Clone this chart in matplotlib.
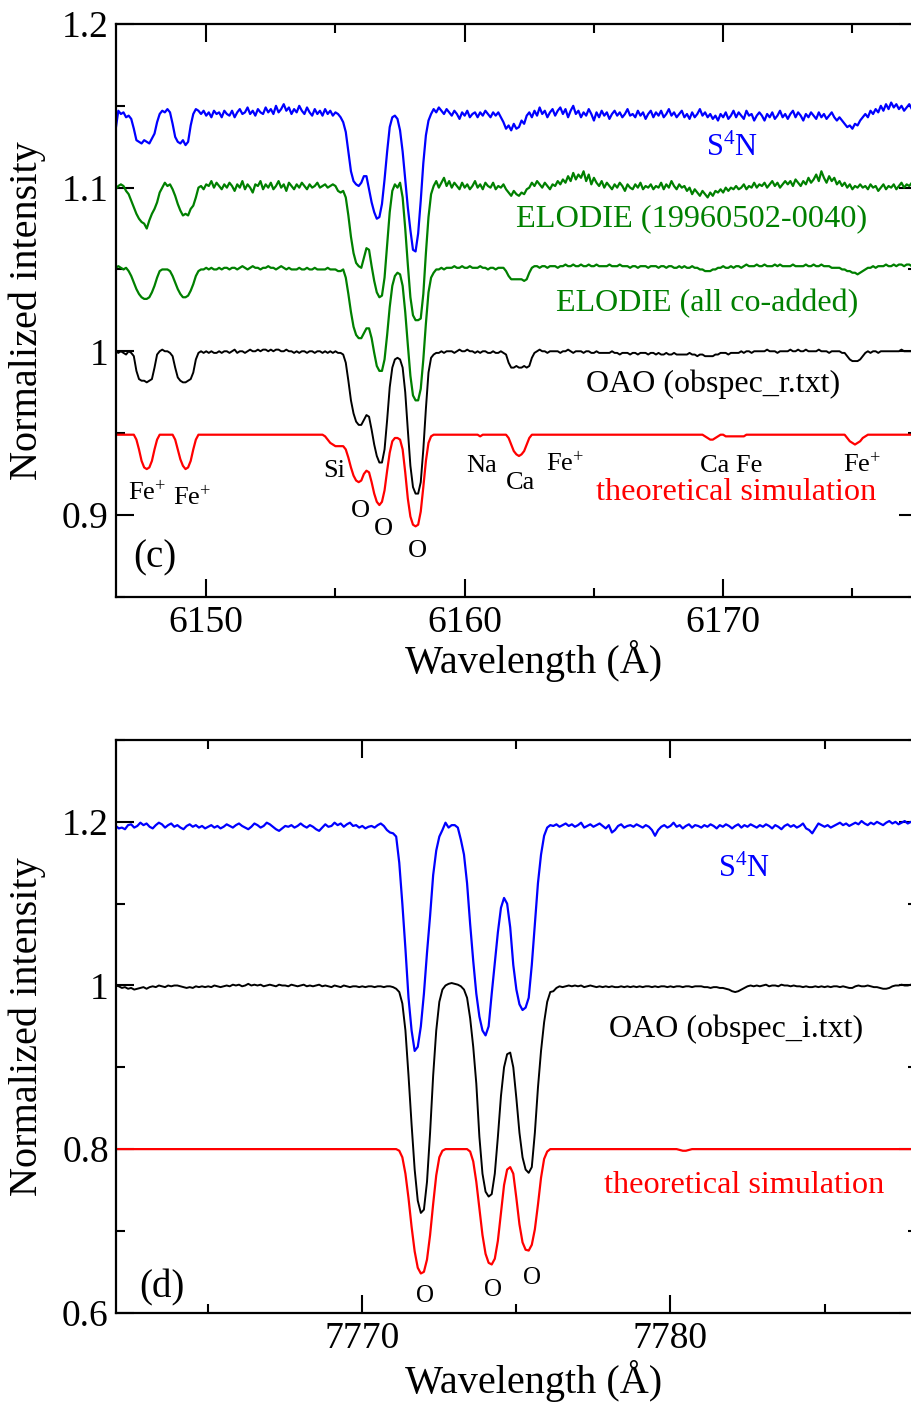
import numpy as np
import matplotlib
matplotlib.use('Agg')
import matplotlib.pyplot as plt
from matplotlib.ticker import MultipleLocator, FuncFormatter

plt.rcParams['font.family'] = ['Liberation Serif', 'DejaVu Serif']
plt.rcParams['mathtext.fontset'] = 'custom'
plt.rcParams['mathtext.rm'] = 'Liberation Serif'
plt.rcParams['mathtext.it'] = 'Liberation Serif:italic'

# ---------------- panel (c): 6146.5 - 6177.4 A, sampled every 0.1 A ----------------
wl_c_start = 6146.5
wl_c_step = 0.1

s4n_c = [
    1.136, 1.147, 1.145, 1.146, 1.143, 1.144, 1.142, 1.136, 1.129, 1.128,
    1.127, 1.129, 1.128, 1.127, 1.130, 1.133, 1.140, 1.145, 1.147, 1.146,
    1.148, 1.146, 1.139, 1.131, 1.128, 1.127, 1.129, 1.126, 1.128, 1.138,
    1.145, 1.148, 1.147, 1.145, 1.147, 1.144, 1.146, 1.143, 1.147, 1.145,
    1.146, 1.143, 1.147, 1.145, 1.144, 1.147, 1.143, 1.146, 1.148, 1.145,
    1.146, 1.149, 1.145, 1.147, 1.144, 1.148, 1.146, 1.145, 1.149, 1.146,
    1.148, 1.145, 1.150, 1.146, 1.148, 1.151, 1.147, 1.149, 1.145, 1.148,
    1.146, 1.150, 1.147, 1.145, 1.149, 1.146, 1.144, 1.148, 1.145, 1.147,
    1.144, 1.148, 1.145, 1.147, 1.144, 1.146, 1.145, 1.143, 1.140, 1.134,
    1.122, 1.110, 1.104, 1.102, 1.101, 1.103, 1.107, 1.107, 1.099, 1.091,
    1.085, 1.081, 1.082, 1.090, 1.105, 1.122, 1.137, 1.143, 1.144, 1.142,
    1.135, 1.122, 1.105, 1.088, 1.074, 1.062, 1.061, 1.072, 1.092, 1.115,
    1.132, 1.141, 1.145, 1.148, 1.146, 1.149, 1.147, 1.145, 1.148, 1.146,
    1.144, 1.147, 1.145, 1.142, 1.146, 1.144, 1.147, 1.143, 1.145, 1.146,
    1.143, 1.146, 1.144, 1.147, 1.145, 1.143, 1.146, 1.144, 1.146, 1.143,
    1.140, 1.136, 1.138, 1.135, 1.139, 1.136, 1.137, 1.141, 1.139, 1.144,
    1.146, 1.143, 1.147, 1.144, 1.149, 1.145, 1.147, 1.143, 1.146, 1.148,
    1.144, 1.147, 1.149, 1.145, 1.148, 1.143, 1.147, 1.150, 1.145, 1.147,
    1.143, 1.146, 1.144, 1.148, 1.145, 1.141, 1.146, 1.143, 1.147, 1.144,
    1.146, 1.142, 1.145, 1.147, 1.144, 1.146, 1.143, 1.145, 1.148, 1.144,
    1.145, 1.143, 1.147, 1.144, 1.146, 1.142, 1.145, 1.147, 1.143, 1.146,
    1.144, 1.147, 1.143, 1.145, 1.148, 1.144, 1.146, 1.143, 1.145, 1.147,
    1.143, 1.145, 1.142, 1.146, 1.143, 1.145, 1.148, 1.144, 1.146, 1.143,
    1.145, 1.142, 1.144, 1.141, 1.145, 1.143, 1.146, 1.142, 1.144, 1.147,
    1.143, 1.146, 1.144, 1.142, 1.147, 1.144, 1.145, 1.141, 1.144, 1.146,
    1.144, 1.141, 1.145, 1.143, 1.146, 1.142, 1.144, 1.147, 1.143, 1.145,
    1.142, 1.145, 1.147, 1.143, 1.146, 1.144, 1.141, 1.145, 1.143, 1.146,
    1.144, 1.142, 1.146, 1.143, 1.145, 1.142, 1.144, 1.146, 1.143, 1.141,
    1.143, 1.141, 1.139, 1.137, 1.138, 1.136, 1.139, 1.138, 1.141, 1.143,
    1.145, 1.143, 1.147, 1.145, 1.148, 1.146, 1.150, 1.147, 1.151, 1.148,
    1.152, 1.149, 1.151, 1.148, 1.150, 1.147, 1.149, 1.151, 1.148, 1.150,
]

elodie_single_c = [
    1.099, 1.101, 1.102, 1.101, 1.098, 1.096, 1.092, 1.088, 1.084, 1.081,
    1.079, 1.078, 1.075, 1.080, 1.084, 1.087, 1.091, 1.097, 1.100, 1.103,
    1.101, 1.102, 1.099, 1.095, 1.090, 1.086, 1.083, 1.084, 1.083, 1.087,
    1.089, 1.094, 1.100, 1.101, 1.099, 1.102, 1.101, 1.104, 1.100, 1.103,
    1.101, 1.099, 1.102, 1.100, 1.103, 1.101, 1.098, 1.102, 1.100, 1.104,
    1.099, 1.102, 1.100, 1.097, 1.102, 1.101, 1.104, 1.099, 1.102, 1.100,
    1.103, 1.099, 1.101, 1.104, 1.100, 1.102, 1.098, 1.103, 1.101, 1.099,
    1.102, 1.100, 1.103, 1.101, 1.099, 1.102, 1.100, 1.101, 1.103, 1.100,
    1.101, 1.102, 1.100, 1.101, 1.102, 1.101, 1.098, 1.097, 1.098, 1.094,
    1.083, 1.070, 1.060, 1.054, 1.052, 1.051, 1.057, 1.063, 1.062, 1.052,
    1.043, 1.036, 1.033, 1.034, 1.045, 1.065, 1.085, 1.098, 1.102, 1.100,
    1.103, 1.094, 1.075, 1.053, 1.033, 1.022, 1.019, 1.019, 1.020, 1.035,
    1.060, 1.082, 1.096, 1.101, 1.104, 1.100, 1.103, 1.106, 1.101, 1.104,
    1.100, 1.103, 1.101, 1.099, 1.103, 1.100, 1.102, 1.099, 1.101, 1.104,
    1.100, 1.102, 1.099, 1.103, 1.101, 1.100, 1.103, 1.099, 1.101, 1.100,
    1.102, 1.099, 1.097, 1.095, 1.098, 1.096, 1.095, 1.097, 1.096, 1.099,
    1.100, 1.103, 1.101, 1.104, 1.102, 1.100, 1.103, 1.101, 1.099, 1.102,
    1.101, 1.104, 1.102, 1.105, 1.103, 1.107, 1.104, 1.109, 1.105, 1.108,
    1.106, 1.110, 1.104, 1.108, 1.102, 1.106, 1.103, 1.101, 1.104, 1.100,
    1.103, 1.101, 1.099, 1.102, 1.100, 1.103, 1.101, 1.098, 1.102, 1.100,
    1.099, 1.102, 1.100, 1.103, 1.099, 1.101, 1.100, 1.102, 1.099, 1.101,
    1.100, 1.103, 1.099, 1.102, 1.100, 1.104, 1.101, 1.099, 1.102, 1.100,
    1.101, 1.098, 1.100, 1.096, 1.099, 1.097, 1.095, 1.098, 1.096, 1.094,
    1.097, 1.095, 1.098, 1.097, 1.099, 1.097, 1.100, 1.098, 1.100, 1.099,
    1.101, 1.099, 1.100, 1.102, 1.099, 1.101, 1.100, 1.103, 1.100, 1.102,
    1.101, 1.103, 1.100, 1.102, 1.104, 1.101, 1.103, 1.100, 1.102, 1.104,
    1.102, 1.104, 1.101, 1.105, 1.103, 1.101, 1.104, 1.102, 1.106, 1.103,
    1.105, 1.108, 1.104, 1.110, 1.106, 1.103, 1.107, 1.104, 1.106, 1.102,
    1.104, 1.101, 1.103, 1.100, 1.102, 1.099, 1.101, 1.100, 1.102, 1.100,
    1.101, 1.099, 1.102, 1.100, 1.101, 1.098, 1.100, 1.102, 1.099, 1.101,
    1.100, 1.102, 1.099, 1.101, 1.103, 1.100, 1.102, 1.101, 1.103, 1.102,
]

elodie_coadd_c = [
    1.051, 1.052, 1.051, 1.050, 1.051, 1.049, 1.046, 1.042, 1.038, 1.035,
    1.033, 1.032, 1.032, 1.033, 1.036, 1.040, 1.045, 1.049, 1.050, 1.050,
    1.050, 1.049, 1.046, 1.042, 1.038, 1.035, 1.033, 1.033, 1.034, 1.037,
    1.041, 1.046, 1.049, 1.050, 1.050, 1.051, 1.050, 1.051, 1.050, 1.050,
    1.051, 1.050, 1.051, 1.051, 1.050, 1.051, 1.051, 1.050, 1.051, 1.052,
    1.051, 1.050, 1.051, 1.052, 1.051, 1.051, 1.050, 1.051, 1.051, 1.052,
    1.051, 1.051, 1.050, 1.051, 1.052, 1.051, 1.050, 1.051, 1.050, 1.050,
    1.050, 1.051, 1.050, 1.050, 1.051, 1.050, 1.050, 1.051, 1.050, 1.050,
    1.050, 1.050, 1.051, 1.050, 1.050, 1.050, 1.049, 1.049, 1.050, 1.045,
    1.035, 1.024, 1.015, 1.010, 1.008, 1.008, 1.011, 1.014, 1.014, 1.008,
    0.999, 0.991, 0.988, 0.988, 0.995, 1.010, 1.027, 1.040, 1.046, 1.048,
    1.047, 1.040, 1.024, 1.004, 0.985, 0.973, 0.970, 0.970, 0.977, 0.995,
    1.017, 1.036, 1.045, 1.048, 1.050, 1.050, 1.051, 1.050, 1.051, 1.051,
    1.051, 1.052, 1.051, 1.051, 1.052, 1.051, 1.051, 1.052, 1.051, 1.051,
    1.051, 1.052, 1.051, 1.051, 1.050, 1.051, 1.051, 1.050, 1.051, 1.051,
    1.051, 1.049, 1.046, 1.044, 1.044, 1.044, 1.044, 1.044, 1.043, 1.044,
    1.048, 1.051, 1.052, 1.052, 1.051, 1.052, 1.052, 1.051, 1.052, 1.052,
    1.052, 1.051, 1.052, 1.052, 1.053, 1.052, 1.052, 1.053, 1.052, 1.052,
    1.053, 1.052, 1.052, 1.053, 1.052, 1.052, 1.053, 1.052, 1.052, 1.052,
    1.052, 1.053, 1.052, 1.052, 1.052, 1.053, 1.052, 1.052, 1.052, 1.051,
    1.052, 1.052, 1.051, 1.052, 1.052, 1.052, 1.051, 1.052, 1.052, 1.052,
    1.051, 1.052, 1.052, 1.051, 1.052, 1.052, 1.051, 1.051, 1.052, 1.051,
    1.052, 1.051, 1.051, 1.052, 1.051, 1.051, 1.050, 1.050, 1.049, 1.049,
    1.049, 1.050, 1.050, 1.051, 1.051, 1.052, 1.051, 1.051, 1.052, 1.051,
    1.052, 1.052, 1.051, 1.052, 1.053, 1.052, 1.052, 1.052, 1.053, 1.052,
    1.052, 1.053, 1.052, 1.052, 1.052, 1.053, 1.052, 1.053, 1.052, 1.052,
    1.052, 1.052, 1.053, 1.052, 1.052, 1.052, 1.052, 1.053, 1.052, 1.052,
    1.053, 1.052, 1.052, 1.053, 1.052, 1.052, 1.052, 1.051, 1.051, 1.051,
    1.051, 1.050, 1.050, 1.049, 1.049, 1.048, 1.048, 1.047, 1.048, 1.049,
    1.050, 1.051, 1.051, 1.052, 1.051, 1.052, 1.052, 1.052, 1.053, 1.052,
    1.052, 1.053, 1.052, 1.053, 1.053, 1.052, 1.053, 1.053, 1.052, 1.053,
]

oao_c = [
    1.000, 0.999, 1.000, 0.999, 0.998, 1.000, 0.999, 0.997, 0.988, 0.983,
    0.982, 0.982, 0.981, 0.982, 0.983, 0.990, 0.998, 1.000, 1.001, 1.000,
    1.000, 0.999, 0.997, 0.990, 0.984, 0.982, 0.981, 0.981, 0.982, 0.983,
    0.987, 0.995, 0.999, 1.000, 0.999, 1.000, 0.999, 1.000, 0.999, 0.999,
    1.000, 0.999, 1.000, 1.000, 0.999, 1.000, 1.001, 0.999, 1.000, 1.000,
    0.999, 1.000, 1.001, 1.000, 1.000, 1.001, 1.000, 1.001, 1.001, 1.000,
    1.001, 1.000, 1.001, 1.001, 1.000, 1.000, 1.001, 1.000, 1.000, 0.999,
    1.000, 0.999, 1.000, 1.000, 0.999, 1.000, 1.000, 0.999, 1.000, 1.000,
    0.999, 1.000, 0.999, 1.000, 0.999, 1.000, 0.999, 0.999, 0.998, 0.993,
    0.982, 0.970, 0.962, 0.957, 0.955, 0.955, 0.958, 0.961, 0.960, 0.952,
    0.943, 0.936, 0.932, 0.932, 0.940, 0.958, 0.978, 0.990, 0.995, 0.996,
    0.995, 0.990, 0.975, 0.952, 0.930, 0.917, 0.913, 0.913, 0.920, 0.940,
    0.965, 0.987, 0.996, 0.998, 0.999, 0.999, 1.000, 0.999, 1.000, 1.000,
    1.000, 0.999, 1.000, 1.001, 1.000, 1.000, 1.001, 1.000, 1.000, 0.999,
    1.000, 0.999, 1.000, 1.000, 0.999, 0.999, 1.000, 0.999, 0.999, 1.000,
    0.999, 0.998, 0.993, 0.990, 0.990, 0.991, 0.990, 0.990, 0.991, 0.990,
    0.991, 0.996, 0.999, 1.000, 1.001, 1.000, 1.000, 0.999, 1.000, 1.000,
    1.000, 1.000, 0.999, 1.000, 1.000, 1.001, 1.000, 0.999, 1.000, 1.000,
    1.000, 0.999, 1.000, 1.000, 0.999, 0.999, 1.000, 0.999, 0.999, 0.999,
    0.999, 0.999, 1.000, 0.999, 0.999, 0.998, 0.999, 0.999, 0.999, 0.998,
    0.999, 0.999, 0.998, 0.999, 0.999, 0.999, 0.998, 0.999, 0.999, 0.998,
    0.999, 0.998, 0.998, 0.999, 0.998, 0.998, 0.999, 0.998, 0.998, 0.998,
    0.998, 0.998, 0.999, 0.998, 0.998, 0.997, 0.998, 0.998, 0.997, 0.997,
    0.997, 0.997, 0.998, 0.998, 0.999, 0.999, 0.999, 0.998, 0.999, 0.999,
    0.999, 0.999, 1.000, 0.999, 1.000, 1.000, 0.999, 1.000, 1.000, 1.000,
    1.000, 1.000, 1.001, 1.000, 1.000, 1.000, 0.999, 1.000, 1.000, 1.000,
    1.000, 1.001, 1.000, 1.000, 1.001, 1.000, 1.000, 1.001, 1.000, 1.000,
    1.000, 1.000, 1.001, 1.000, 1.000, 1.000, 0.999, 1.000, 1.000, 1.000,
    1.000, 0.999, 0.999, 0.997, 0.995, 0.994, 0.994, 0.994, 0.995, 0.997,
    0.999, 1.000, 0.999, 1.000, 1.000, 0.999, 1.000, 1.000, 1.000, 1.000,
    1.000, 1.000, 1.000, 1.000, 1.001, 1.000, 1.000, 1.000, 1.000, 1.000,
]

theory_c = [
    0.949, 0.949, 0.949, 0.949, 0.949, 0.949, 0.949, 0.949, 0.946, 0.940,
    0.933, 0.929, 0.928, 0.929, 0.933, 0.940, 0.946, 0.949, 0.949, 0.949,
    0.949, 0.949, 0.949, 0.946, 0.940, 0.934, 0.930, 0.928, 0.929, 0.933,
    0.940, 0.946, 0.949, 0.949, 0.949, 0.949, 0.949, 0.949, 0.949, 0.949,
    0.949, 0.949, 0.949, 0.949, 0.949, 0.949, 0.949, 0.949, 0.949, 0.949,
    0.949, 0.949, 0.949, 0.949, 0.949, 0.949, 0.949, 0.949, 0.949, 0.949,
    0.949, 0.949, 0.949, 0.949, 0.949, 0.949, 0.949, 0.949, 0.949, 0.949,
    0.949, 0.949, 0.949, 0.949, 0.949, 0.949, 0.949, 0.949, 0.949, 0.949,
    0.949, 0.948, 0.946, 0.944, 0.943, 0.942, 0.942, 0.942, 0.942, 0.940,
    0.935, 0.929, 0.924, 0.921, 0.920, 0.921, 0.925, 0.927, 0.926, 0.920,
    0.913, 0.908, 0.906, 0.908, 0.915, 0.927, 0.938, 0.945, 0.947, 0.947,
    0.946, 0.940, 0.926, 0.910, 0.899, 0.894, 0.893, 0.894, 0.902, 0.917,
    0.933, 0.944, 0.948, 0.949, 0.949, 0.949, 0.949, 0.949, 0.949, 0.949,
    0.949, 0.949, 0.949, 0.949, 0.949, 0.949, 0.949, 0.949, 0.949, 0.949,
    0.949, 0.948, 0.949, 0.949, 0.949, 0.949, 0.949, 0.949, 0.949, 0.949,
    0.949, 0.949, 0.947, 0.943, 0.939, 0.937, 0.936, 0.937, 0.939, 0.943,
    0.947, 0.949, 0.949, 0.949, 0.949, 0.949, 0.949, 0.949, 0.949, 0.949,
    0.949, 0.949, 0.949, 0.949, 0.949, 0.949, 0.949, 0.949, 0.949, 0.949,
    0.949, 0.949, 0.949, 0.949, 0.949, 0.949, 0.949, 0.949, 0.949, 0.949,
    0.949, 0.949, 0.949, 0.949, 0.949, 0.949, 0.949, 0.949, 0.949, 0.949,
    0.949, 0.949, 0.949, 0.949, 0.949, 0.949, 0.949, 0.949, 0.949, 0.949,
    0.949, 0.949, 0.949, 0.949, 0.949, 0.949, 0.949, 0.949, 0.949, 0.949,
    0.949, 0.949, 0.949, 0.949, 0.949, 0.949, 0.949, 0.949, 0.948, 0.947,
    0.946, 0.946, 0.947, 0.948, 0.949, 0.949, 0.948, 0.948, 0.948, 0.948,
    0.948, 0.948, 0.948, 0.948, 0.949, 0.949, 0.949, 0.949, 0.949, 0.949,
    0.949, 0.949, 0.949, 0.949, 0.949, 0.949, 0.949, 0.949, 0.949, 0.949,
    0.949, 0.949, 0.949, 0.949, 0.949, 0.949, 0.949, 0.949, 0.949, 0.949,
    0.949, 0.949, 0.949, 0.949, 0.949, 0.949, 0.949, 0.949, 0.949, 0.949,
    0.949, 0.949, 0.949, 0.947, 0.945, 0.944, 0.943, 0.944, 0.945, 0.947,
    0.948, 0.949, 0.949, 0.949, 0.949, 0.949, 0.949, 0.949, 0.949, 0.949,
    0.949, 0.949, 0.949, 0.949, 0.949, 0.949, 0.949, 0.949, 0.949, 0.949,
]

# ---------------- panel (d): 7762.0 - 7787.9 A, sampled every 0.1 A ----------------
wl_d_start = 7762.0
wl_d_step = 0.1

s4n_d = [
    1.195, 1.192, 1.193, 1.191, 1.196, 1.197, 1.193, 1.195, 1.199, 1.196,
    1.198, 1.194, 1.192, 1.196, 1.199, 1.197, 1.193, 1.196, 1.198, 1.194,
    1.196, 1.193, 1.191, 1.195, 1.197, 1.194, 1.196, 1.193, 1.195, 1.192,
    1.194, 1.196, 1.193, 1.195, 1.192, 1.194, 1.197, 1.195, 1.193, 1.196,
    1.198, 1.195, 1.193, 1.191, 1.194, 1.198, 1.196, 1.193, 1.195, 1.199,
    1.197, 1.194, 1.191, 1.189, 1.192, 1.195, 1.194, 1.196, 1.193, 1.195,
    1.198, 1.195, 1.193, 1.196, 1.194, 1.191, 1.189, 1.193, 1.197, 1.194,
    1.195, 1.199, 1.196, 1.198, 1.194, 1.197, 1.199, 1.195, 1.196, 1.193,
    1.195, 1.192, 1.194, 1.195, 1.193, 1.196, 1.198, 1.195, 1.190, 1.187,
    1.186, 1.182, 1.150, 1.100, 1.045, 0.985, 0.945, 0.920, 0.925, 0.950,
    0.990, 1.040, 1.085, 1.135, 1.165, 1.182, 1.190, 1.199, 1.193, 1.196,
    1.196, 1.193, 1.178, 1.160, 1.125, 1.075, 1.030, 0.990, 0.962, 0.945,
    0.939, 0.950, 0.990, 1.028, 1.065, 1.095, 1.107, 1.100, 1.071, 1.025,
    0.995, 0.977, 0.970, 0.973, 0.985, 1.025, 1.075, 1.125, 1.160, 1.183,
    1.193, 1.196, 1.195, 1.197, 1.194, 1.196, 1.198, 1.195, 1.197, 1.194,
    1.196, 1.199, 1.193, 1.195, 1.197, 1.194, 1.196, 1.198, 1.195, 1.192,
    1.196, 1.187, 1.190, 1.195, 1.197, 1.193, 1.195, 1.196, 1.194, 1.197,
    1.195, 1.193, 1.196, 1.194, 1.190, 1.183, 1.190, 1.194, 1.196, 1.193,
    1.195, 1.199, 1.194, 1.196, 1.192, 1.195, 1.197, 1.193, 1.196, 1.195,
    1.193, 1.196, 1.194, 1.197, 1.195, 1.192, 1.196, 1.194, 1.197, 1.195,
    1.192, 1.195, 1.197, 1.193, 1.196, 1.194, 1.197, 1.195, 1.193, 1.196,
    1.194, 1.197, 1.195, 1.192, 1.196, 1.194, 1.191, 1.195, 1.197, 1.194,
    1.196, 1.193, 1.195, 1.198, 1.192, 1.190, 1.186, 1.192, 1.198, 1.196,
    1.194, 1.196, 1.193, 1.195, 1.197, 1.199, 1.196, 1.198, 1.195, 1.197,
    1.199, 1.197, 1.201, 1.198, 1.196, 1.199, 1.197, 1.200, 1.198, 1.196,
    1.199, 1.201, 1.198, 1.200, 1.197, 1.199, 1.201, 1.198, 1.200, 1.199,
]

oao_d = [
    1.000, 0.999, 0.997, 0.998, 0.996, 0.997, 0.995, 0.996, 0.997, 0.998,
    0.996, 0.998, 0.999, 0.998, 1.000, 0.999, 0.998, 1.000, 0.999, 1.000,
    1.000, 0.999, 0.998, 0.997, 0.998, 0.997, 0.999, 0.998, 0.999, 0.998,
    0.999, 0.998, 1.000, 0.999, 0.998, 0.999, 1.000, 0.999, 1.001, 1.000,
    1.001, 0.999, 1.000, 1.002, 1.000, 1.001, 1.000, 1.001, 0.999, 1.000,
    1.001, 1.000, 0.999, 1.001, 1.000, 1.000, 0.999, 1.001, 1.000, 0.999,
    1.000, 1.001, 0.999, 1.000, 0.999, 1.000, 1.001, 0.999, 1.000, 0.999,
    0.998, 1.000, 0.999, 0.998, 1.000, 0.999, 0.998, 0.999, 0.999, 0.998,
    0.999, 0.998, 0.999, 0.999, 0.998, 0.999, 0.999, 0.998, 0.999, 0.999,
    0.998, 0.996, 0.992, 0.978, 0.945, 0.890, 0.830, 0.775, 0.737, 0.722,
    0.726, 0.760, 0.820, 0.890, 0.945, 0.980, 0.995, 1.000, 1.002, 1.003,
    1.002, 1.001, 0.999, 0.995, 0.985, 0.960, 0.925, 0.880, 0.815, 0.770,
    0.748, 0.742, 0.745, 0.770, 0.815, 0.865, 0.900, 0.916, 0.918, 0.900,
    0.862, 0.820, 0.790, 0.775, 0.771, 0.778, 0.820, 0.875, 0.920, 0.955,
    0.980, 0.992, 0.993, 0.997, 0.999, 0.998, 0.999, 1.000, 0.999, 1.000,
    0.999, 1.000, 0.998, 0.999, 1.000, 0.999, 0.998, 0.999, 0.998, 0.999,
    0.998, 0.999, 0.998, 0.998, 0.999, 0.998, 0.999, 0.998, 0.999, 0.998,
    0.999, 0.998, 0.999, 0.999, 0.998, 0.999, 0.998, 0.999, 0.999, 0.998,
    0.999, 0.998, 0.999, 0.999, 0.998, 0.999, 0.999, 0.998, 0.999, 0.999,
    0.999, 0.998, 0.998, 0.997, 0.998, 0.998, 0.997, 0.997, 0.996, 0.995,
    0.993, 0.992, 0.993, 0.995, 0.997, 0.999, 1.000, 0.999, 1.000, 0.999,
    1.000, 1.001, 0.999, 1.000, 1.000, 0.999, 1.001, 1.000, 1.000, 0.999,
    1.000, 0.999, 0.999, 0.998, 0.999, 0.998, 0.998, 0.999, 0.998, 0.999,
    0.998, 0.999, 0.998, 0.999, 0.999, 0.998, 0.999, 0.998, 0.997, 0.997,
    0.999, 1.000, 0.999, 0.999, 1.000, 0.999, 0.998, 0.998, 0.997, 0.996,
    0.996, 0.997, 0.999, 1.000, 1.000, 1.001, 1.000, 1.000, 1.001, 1.000,
]

theory_d = [
    0.800, 0.800, 0.800, 0.800, 0.800, 0.800, 0.800, 0.800, 0.800, 0.800,
    0.800, 0.800, 0.800, 0.800, 0.800, 0.800, 0.800, 0.800, 0.800, 0.800,
    0.800, 0.800, 0.800, 0.800, 0.800, 0.800, 0.800, 0.800, 0.800, 0.800,
    0.800, 0.800, 0.800, 0.800, 0.800, 0.800, 0.800, 0.800, 0.800, 0.800,
    0.800, 0.800, 0.800, 0.800, 0.800, 0.800, 0.800, 0.800, 0.800, 0.800,
    0.800, 0.800, 0.800, 0.800, 0.800, 0.800, 0.800, 0.800, 0.800, 0.800,
    0.800, 0.800, 0.800, 0.800, 0.800, 0.800, 0.800, 0.800, 0.800, 0.800,
    0.800, 0.800, 0.800, 0.800, 0.800, 0.800, 0.800, 0.800, 0.800, 0.800,
    0.800, 0.800, 0.800, 0.800, 0.800, 0.800, 0.800, 0.800, 0.800, 0.800,
    0.800, 0.800, 0.798, 0.790, 0.770, 0.740, 0.705, 0.675, 0.655, 0.648,
    0.650, 0.665, 0.695, 0.733, 0.768, 0.790, 0.798, 0.800, 0.800, 0.800,
    0.800, 0.800, 0.800, 0.800, 0.800, 0.797, 0.785, 0.760, 0.727, 0.695,
    0.672, 0.661, 0.659, 0.666, 0.688, 0.722, 0.756, 0.775, 0.778, 0.770,
    0.740, 0.708, 0.686, 0.677, 0.676, 0.683, 0.702, 0.732, 0.765, 0.788,
    0.797, 0.800, 0.800, 0.800, 0.800, 0.800, 0.800, 0.800, 0.800, 0.800,
    0.800, 0.800, 0.800, 0.800, 0.800, 0.800, 0.800, 0.800, 0.800, 0.800,
    0.800, 0.800, 0.800, 0.800, 0.800, 0.800, 0.800, 0.800, 0.800, 0.800,
    0.800, 0.800, 0.800, 0.800, 0.800, 0.800, 0.800, 0.800, 0.800, 0.800,
    0.800, 0.800, 0.800, 0.799, 0.798, 0.798, 0.799, 0.800, 0.800, 0.800,
    0.800, 0.800, 0.800, 0.800, 0.800, 0.800, 0.800, 0.800, 0.800, 0.800,
    0.800, 0.800, 0.800, 0.800, 0.800, 0.800, 0.800, 0.800, 0.800, 0.800,
    0.800, 0.800, 0.800, 0.800, 0.800, 0.800, 0.800, 0.800, 0.800, 0.800,
    0.800, 0.800, 0.800, 0.800, 0.800, 0.800, 0.800, 0.800, 0.800, 0.800,
    0.800, 0.800, 0.800, 0.800, 0.800, 0.800, 0.800, 0.800, 0.800, 0.800,
    0.800, 0.800, 0.800, 0.800, 0.800, 0.800, 0.800, 0.800, 0.800, 0.800,
    0.800, 0.800, 0.800, 0.800, 0.800, 0.800, 0.800, 0.800, 0.800, 0.800,
]

# line identifications: (label, wavelength of left edge, intensity of baseline)
ids_c = [
    ('Fe$^{+}$', 6146.97, 0.9088), ('Fe$^{+}$', 6148.71, 0.9059),
    ('Si', 6154.51, 0.9230), ('O', 6155.61, 0.8986), ('O', 6156.47, 0.8880),
    ('O', 6157.80, 0.8742), ('Na', 6160.06, 0.9263), ('Ca', 6161.58, 0.9159),
    ('Fe$^{+}$', 6163.15, 0.9263), ('Ca Fe', 6169.11, 0.9263),
    ('Fe$^{+}$', 6174.65, 0.9262),
]
ids_d = [('O', 7771.75, 0.6134), ('O', 7773.96, 0.6203), ('O', 7775.23, 0.6347)]

BLUE = '#0000ff'
GREEN = '#008000'
RED = '#ff0000'


def wavelengths(start, step, values):
    return start + step * np.arange(len(values))


def style_axes(ax, xlim, ylim, xmajor, ymajor):
    ax.set_xlim(*xlim)
    ax.set_ylim(*ylim)
    ax.xaxis.set_major_locator(MultipleLocator(xmajor))
    ax.xaxis.set_minor_locator(MultipleLocator(xmajor / 2))
    ax.yaxis.set_major_locator(MultipleLocator(ymajor))
    ax.yaxis.set_minor_locator(MultipleLocator(ymajor / 2))
    ax.yaxis.set_major_formatter(FuncFormatter(lambda v, p: '%g' % round(v, 3)))
    ax.tick_params(which='both', direction='in', top=True, right=True,
                   width=1.5, labelsize=27)
    ax.tick_params(which='major', length=13)
    ax.tick_params(which='minor', length=6.5)
    ax.tick_params(axis='x', pad=6)
    ax.tick_params(axis='y', pad=5)
    for sp in ax.spines.values():
        sp.set_linewidth(1.6)
    ax.set_xlabel('Wavelength (Å)', fontsize=29)
    ax.set_ylabel('Normalized intensity', fontsize=29)
    ax.xaxis.set_label_coords(0.522, -0.112)
    ax.yaxis.set_label_coords(-0.110, 0.5)
    ax.xaxis.label.set_va('center')
    ax.yaxis.label.set_va('center')


fig = plt.figure(figsize=(9.12, 14.04), dpi=100)
ax_c = fig.add_axes([0.1269, 0.5750, 0.8786, 0.4079])
ax_d = fig.add_axes([0.1269, 0.0650, 0.8786, 0.4079])

# panel (c)
wl_c = wavelengths(wl_c_start, wl_c_step, s4n_c)
ax_c.plot(wavelengths(wl_c_start, wl_c_step, theory_c), theory_c, color=RED, lw=1.6)
ax_c.plot(wavelengths(wl_c_start, wl_c_step, oao_c), oao_c, color='black', lw=1.4)
ax_c.plot(wavelengths(wl_c_start, wl_c_step, elodie_coadd_c), elodie_coadd_c, color=GREEN, lw=1.6)
ax_c.plot(wavelengths(wl_c_start, wl_c_step, elodie_single_c), elodie_single_c, color=GREEN, lw=1.6)
ax_c.plot(wl_c, s4n_c, color=BLUE, lw=1.6)
style_axes(ax_c, (6146.5, 6177.5), (0.85, 1.2), 10, 0.1)

ax_c.text(6169.34, 1.1191, 'S$^{4}$N', color=BLUE, fontsize=22)
ax_c.text(6161.99, 1.0764, 'ELODIE (19960502-0040)', color=GREEN, fontsize=23.3)
ax_c.text(6163.54, 1.0244, 'ELODIE (all co-added)', color=GREEN, fontsize=23)
ax_c.text(6164.70, 0.9751, 'OAO (obspec_r.txt)', color='black', fontsize=23)
ax_c.text(6165.09, 0.9088, 'theoretical simulation', color=RED, fontsize=23.2)
for label, x, y in ids_c:
    ax_c.text(x, y, label, fontsize=19)
ax_c.text(6147.16, 0.8676, '(c)', fontsize=28)

# panel (d)
ax_d.plot(wavelengths(wl_d_start, wl_d_step, theory_d), theory_d, color=RED, lw=1.6)
ax_d.plot(wavelengths(wl_d_start, wl_d_step, oao_d), oao_d, color='black', lw=1.4)
ax_d.plot(wavelengths(wl_d_start, wl_d_step, s4n_d), s4n_d, color=BLUE, lw=1.6)
style_axes(ax_d, (7762.0, 7788.0), (0.6, 1.3), 10, 0.2)
ax_d.xaxis.set_label_coords(0.522, -0.119)

ax_d.text(7781.54, 1.1326, 'S$^{4}$N', color=BLUE, fontsize=22)
ax_d.text(7778.01, 0.9367, 'OAO (obspec_i.txt)', color='black', fontsize=23)
ax_d.text(7777.83, 0.7469, 'theoretical simulation', color=RED, fontsize=23.2)
for label, x, y in ids_d:
    ax_d.text(x, y, label, fontsize=18)
ax_d.text(7762.77, 0.6183, '(d)', fontsize=28)

fig.savefig('out.png', dpi=100)
